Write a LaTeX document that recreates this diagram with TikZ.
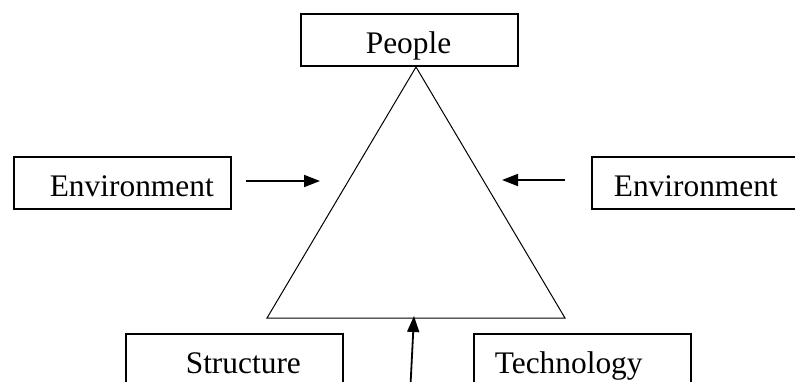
\documentclass[tikz,border=0pt]{standalone}
\usepackage{fontspec}
\setmainfont{Liberation Serif}
\usetikzlibrary{arrows.meta}

\begin{document}
\begin{tikzpicture}[
    x=0.5pt, y=-0.5pt,
    box/.style={draw, line width=0.8pt, anchor=north west, align=left,
      text width=108.5pt, text height=20pt, text depth=6pt, inner sep=0pt,
      font=\fontsize{15.7}{18}\selectfont},
    arr/.style={-{Triangle[length=8pt, width=6pt]}, line width=0.9pt}
  ]
    \clip (0,0) rectangle (795,381);
    \node[box] (people) at (300,13) {\hspace*{32.5pt}People};
    \node[box] (envL) at (13,156) {\hspace*{18pt}Environment};
    \node[box] (envR) at (591,156) {\hspace*{11pt}Environment};
    \node[box] (struct) at (125,333) {\hspace*{30pt}Structure};
    \node[box] (tech) at (473,333) {\hspace*{10.5pt}Technology};
    % triangle
    \coordinate (apex) at (416,67);
    \coordinate (baseL) at (267,318);
    \coordinate (baseR) at (565,318);
    \draw[line width=0.5pt] (apex) -- (baseL) -- (baseR) -- cycle;
    % arrows
    \coordinate (envL-from) at (246,181);
    \coordinate (envL-to) at (320,181);
    \coordinate (envR-from) at (565,180);
    \coordinate (envR-to) at (502,180);
    \coordinate (base-from) at (410,395);
    \coordinate (base-to) at (414,316);
    \draw[arr] (envL-from) -- (envL-to);
    \draw[arr] (envR-from) -- (envR-to);
    \draw[arr] (base-from) -- (base-to);
\end{tikzpicture}
\end{document}
